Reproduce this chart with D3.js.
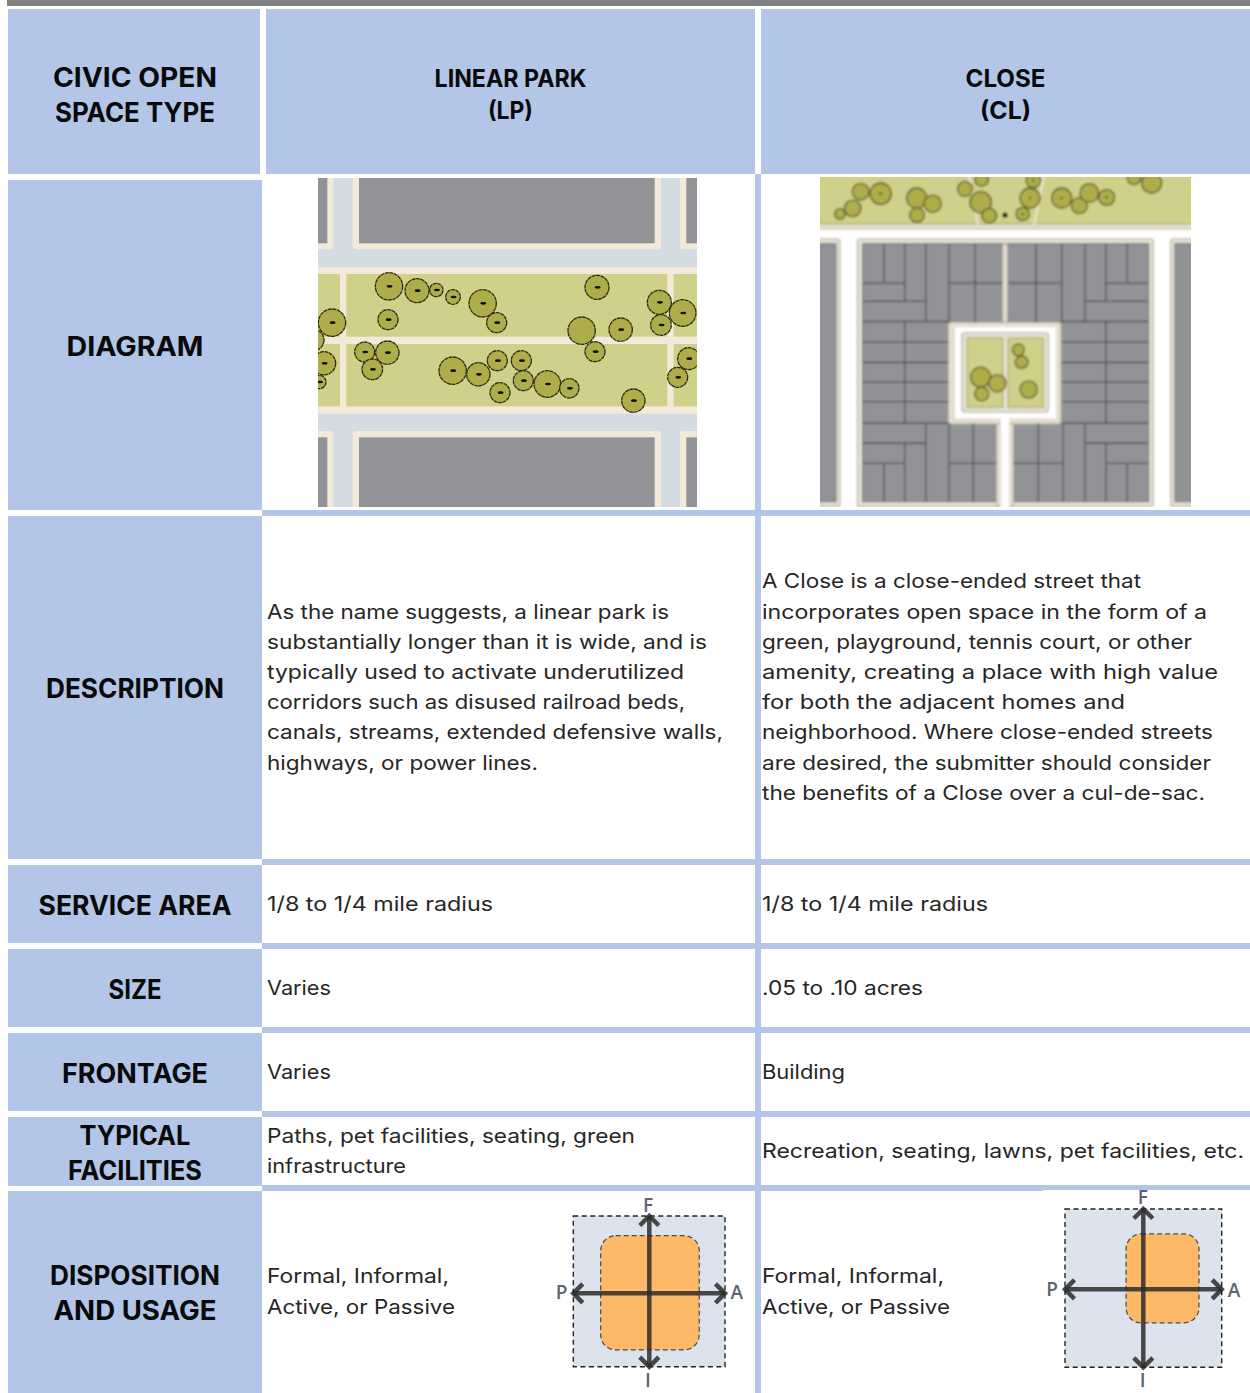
<!DOCTYPE html>
<html lang="en">

<head>
    <meta charset="UTF-8">
    <title>Civic Open Space Types</title>
    <style>
        html, body { margin: 0; padding: 0; background: #fff; }
        svg { display: block; }
        text { font-family: Inter, "Noto Sans", sans-serif; fill: #262626; }
        .label { font-weight: 700; font-size: 27px; fill: #0a0a0a; text-anchor: middle; }
        .head { font-weight: 700; font-size: 24px; fill: #0a0a0a; text-anchor: middle; }
        .body { font-weight: 400; font-size: 20px; }
        .axis-letter { font-family: "Open Sans", sans-serif; font-weight: 600; font-size: 19px; fill: #5b6470; text-anchor: middle; }
    </style>
</head>

<body>
    <script src="https://d3js.org/d3.v7.min.js"></script>
    <script>
        // table content
        const rowLabels = [
            ["CIVIC OPEN", "SPACE TYPE"], ["DIAGRAM"], ["DESCRIPTION"], ["SERVICE AREA"],
            ["SIZE"], ["FRONTAGE"], ["TYPICAL", "FACILITIES"], ["DISPOSITION", "AND USAGE"]
        ];
        const columnHeads = [["LINEAR PARK", "(LP)"], ["CLOSE", "(CL)"]];
        const linearParkCells = [
            null,
            ["As the name suggests, a linear park is", "substantially longer than it is wide, and is",
                "typically used to activate underutilized", "corridors such as disused railroad beds,",
                "canals, streams, extended defensive walls,", "highways, or power lines."],
            ["1/8 to 1/4 mile radius"],
            ["Varies"],
            ["Varies"],
            ["Paths, pet facilities, seating, green", "infrastructure"],
            ["Formal, Informal,", "Active, or Passive"]
        ];
        const closeCells = [
            null,
            ["A Close is a close-ended street that", "incorporates open space in the form of a",
                "green, playground, tennis court, or other", "amenity, creating a place with high value",
                "for both the adjacent homes and", "neighborhood. Where close-ended streets",
                "are desired, the submitter should consider", "the benefits of a Close over a cul-de-sac."],
            ["1/8 to 1/4 mile radius"],
            [".05 to .10 acres"],
            ["Building"],
            ["Recreation, seating, lawns, pet facilities, etc."],
            ["Formal, Informal,", "Active, or Passive"]
        ];

        // site plan of the linear park: x, y, radius in plan units
        const lpTrees = [
            [237, 349, 41], [321, 362, 36], [379, 360, 20], [429, 381, 22], [518, 400, 41], [560, 458, 30],
            [234, 449, 30], [66, 458, 41], [10, 510, 32], [42, 580, 35], [28, 636, 20], [164, 546, 30],
            [232, 548, 35], [187, 598, 31], [428, 602, 41], [505, 613, 35], [562, 572, 30], [634, 572, 30],
            [640, 632, 30], [712, 642, 40], [778, 655, 29], [570, 668, 30], [861, 352, 36], [855, 545, 30],
            [932, 479, 35], [1048, 397, 36], [1118, 429, 40], [1053, 465, 31], [1136, 566, 33],
            [1103, 622, 30], [970, 692, 35]
        ];
        const lpBareTrees = [[815, 482, 41]];
        const lpAreas = [
            ["road", 24, 24, 1161, 1011],
            ["walk", 128, 0, 1053, 238], ["walk", 0, 0, 70, 238], ["walk", 1110, 0, 1300, 238],
            ["walk", 128, 783, 1053, 1100], ["walk", 0, 783, 70, 1100], ["walk", 1110, 783, 1300, 1100],
            ["block", 147, 0, 1034, 220], ["block", 0, 0, 52, 220], ["block", 1129, 0, 1300, 220],
            ["block", 147, 802, 1034, 1100], ["block", 0, 802, 52, 1100], ["block", 1129, 802, 1300, 1100],
            ["path", 0, 292, 1300, 731],
            ["green", 0, 312, 90, 500], ["green", 109, 312, 1072, 500], ["green", 1091, 312, 1300, 500],
            ["green", 0, 522, 90, 709], ["green", 109, 522, 1072, 709], ["green", 1091, 522, 1300, 709]
        ];

        // site plan of the close
        const clTrees = [
            [90, 133, 16], [128, 116, 25], [152, 66, 25], [212, 72, 32], [320, 85, 30], [368, 102, 26],
            [321, 136, 22], [465, 58, 22], [515, 30, 20], [512, 98, 32], [538, 138, 22], [638, 133, 20],
            [660, 85, 30], [670, 32, 22], [755, 85, 30], [808, 108, 24], [838, 70, 28], [890, 83, 24],
            [972, 25, 20], [1025, 40, 30], [625, 540, 18], [635, 577, 19], [512, 622, 30], [562, 640, 26],
            [515, 672, 21], [656, 659, 26]
        ];
        const clAreas = [
            ["path", -20, -20, 1300, 178], ["green", -20, -20, 1300, 162],
            ["path", -20, 207, 90, 1010], ["block", -20, 222, 78, 995],
            ["path", 1082, 207, 1300, 1010], ["block", 1095, 222, 1300, 995],
            ["path", 142, 207, 1030, 1010], ["block", 158, 222, 1016, 995],
            ["path", 578, 222, 592, 458],
            ["path", 560, 750, 610, 1010], ["road", 573, 750, 597, 1050],
            ["path", 415, 458, 753, 762], ["road", 435, 472, 738, 745], ["road", 573, 740, 597, 770],
            ["path", 455, 488, 716, 727], ["green", 472, 505, 578, 712], ["green", 595, 505, 700, 712]
        ];
        const clPaths = [[478, 20, 503, 165], [702, 20, 672, 165]];
        const clLotLines = [
            [222, 222, 222, 340], [284, 222, 284, 395], [347, 222, 347, 455], [417, 222, 417, 458], [495, 222, 495, 458],
            [158, 340, 284, 340], [158, 395, 347, 395], [158, 455, 415, 455], [417, 340, 578, 340],
            [678, 222, 678, 458], [755, 222, 755, 458], [825, 222, 825, 455], [888, 222, 888, 395], [952, 222, 952, 340],
            [595, 340, 755, 340], [888, 340, 1016, 340], [825, 395, 1016, 395], [755, 455, 1016, 455],
            [284, 455, 284, 760], [888, 455, 888, 760],
            [158, 517, 415, 517], [158, 578, 415, 578], [158, 637, 415, 637], [158, 695, 415, 695], [158, 760, 415, 760],
            [755, 517, 1016, 517], [755, 578, 1016, 578], [755, 637, 1016, 637], [755, 695, 1016, 695], [755, 760, 1016, 760],
            [158, 820, 347, 820], [158, 880, 284, 880], [347, 760, 347, 995], [284, 820, 284, 995], [222, 880, 222, 995],
            [417, 760, 417, 995], [490, 760, 490, 995], [417, 880, 560, 880],
            [685, 760, 685, 995], [760, 760, 760, 995], [825, 760, 825, 995], [888, 820, 888, 995], [952, 880, 952, 995],
            [610, 880, 760, 880], [825, 820, 1016, 820], [888, 880, 1016, 880]
        ];
        const clMarker = [[585, 136, 8]];
        const clDottedTrees = [212, 755, 660, 890, 638, 670];

        // disposition: how far the use reaches along passive, active, formal, informal
        const dispositionAxes = ["P", "A", "F", "I"];
        const lpDisposition = [0.64, 0.66, 0.745, 0.77];
        const clDisposition = [0.22, 0.71, 0.69, 0.43];

        // layout, all page pixels
        const W = 1250, H = 1393;
        const BLUE = "#b3c6e7";
        const labelX = [8, 262];
        const colX = [[266, 755], [761, 1250]];
        const rowBands = [[9, 174], [180, 510], [516, 859], [865, 943], [949, 1027], [1033, 1111], [1117, 1186], [1191, 1393]];
        const textLeft = [267, 762];
        const bodyLineH = 30.2, labelLineH = 35, headLineH = 32;
        const headCenter = 94, labelNudge = [3, 1, 1, 1, 1, 1, 1, 1];
        const areaColor = { road: "#d3dce3", walk: "#f3e9d8", block: "#929396", path: "#f3e9d8", green: "#cfd08a" };
        const clAreaColor = { road: "#ffffff", block: "#929396", path: "#e3dfd0", green: "#cfd08a" };
        const clAreaStroke = { road: "none", block: "#77787c", path: "#b8b2a0", green: "#a9a96c" };

        // measured line widths, used to fit the substitute font
        const fit = {
            "CIVIC OPEN": 164, "SPACE TYPE": 160, "DIAGRAM": 137, "DESCRIPTION": 178, "SERVICE AREA": 193, "SIZE": 53,
            "FRONTAGE": 146, "TYPICAL": 111, "FACILITIES": 134, "DISPOSITION": 170, "AND USAGE": 163,
            "LINEAR PARK": 152, "(LP)": 45, "CLOSE": 80, "(CL)": 51,
            "As the name suggests, a linear park is": 402, "substantially longer than it is wide, and is": 440,
            "typically used to activate underutilized": 417, "corridors such as disused railroad beds,": 418,
            "canals, streams, extended defensive walls,": 456, "highways, or power lines.": 271,
            "A Close is a close-ended street that": 379, "incorporates open space in the form of a": 445,
            "green, playground, tennis court, or other": 430, "amenity, creating a place with high value": 456,
            "for both the adjacent homes and": 363, "neighborhood. Where close-ended streets": 451,
            "are desired, the submitter should consider": 449, "the benefits of a Close over a cul-de-sac.": 443,
            "1/8 to 1/4 mile radius": 226, "Varies": 64, ".05 to .10 acres": 161, "Building": 83,
            "Paths, pet facilities, seating, green": 368, "infrastructure": 139,
            "Recreation, seating, lawns, pet facilities, etc.": 482, "Formal, Informal,": 182, "Active, or Passive": 188
        };

        const svg = d3.select("body").append("svg").attr("width", W).attr("height", H);
        const defs = svg.append("defs");
        defs.append("filter").attr("id", "soft").append("feGaussianBlur").attr("stdDeviation", 0.45);
        defs.append("filter").attr("id", "softer").append("feGaussianBlur").attr("stdDeviation", 0.85);

        // bands and rules
        svg.append("rect").attr("x", 7).attr("y", 0).attr("width", W - 7).attr("height", 6).attr("fill", "#808080");
        svg.selectAll(".label-bg").data(rowBands).enter().append("rect")
            .attr("x", labelX[0]).attr("y", d => d[0])
            .attr("width", (d, i) => (i === 0 ? 252 : labelX[1] - labelX[0]))
            .attr("height", d => d[1] - d[0]).attr("fill", BLUE);
        svg.selectAll(".head-bg").data(colX).enter().append("rect")
            .attr("x", d => d[0]).attr("y", rowBands[0][0]).attr("width", d => d[1] - d[0])
            .attr("height", rowBands[0][1] - rowBands[0][0]).attr("fill", BLUE);
        svg.append("rect").attr("x", 755).attr("y", 174).attr("width", 6).attr("height", H - 174).attr("fill", BLUE);
        svg.selectAll(".rule").data(rowBands.slice(2)).enter().append("rect")
            .attr("x", labelX[1]).attr("y", d => d[0] - 6).attr("width", W - labelX[1]).attr("height", 6)
            .attr("fill", BLUE);
        svg.append("rect").attr("x", 1043).attr("y", 1190).attr("width", W - 1043).attr("height", 1).attr("fill", "#fff");

        function drawLines(sel, lines, cls, x, centerY, lineH) {
            const top = centerY - (lines.length - 1) * lineH / 2;
            const size = cls === "body" ? 20 : cls === "head" ? 24 : 27;
            sel.selectAll(null).data(lines).enter().append("text")
                .attr("class", cls)
                .attr("x", x)
                .attr("y", (d, i) => top + i * lineH + size * (cls === "body" ? 0.3 : 0.36))
                .attr("textLength", d => fit[d])
                .attr("lengthAdjust", "spacingAndGlyphs")
                .text(d => d);
        }

        rowLabels.forEach((lines, i) => {
            const mid = (rowBands[i][0] + rowBands[i][1]) / 2 + labelNudge[i];
            drawLines(svg, lines, "label", 135, mid, labelLineH);
        });
        columnHeads.forEach((lines, i) => {
            drawLines(svg, lines, "head", (colX[i][0] + colX[i][1]) / 2, headCenter, headLineH);
        });
        [linearParkCells, closeCells].forEach((cells, c) => {
            cells.forEach((lines, i) => {
                if (!lines) return;
                const mid = (rowBands[i + 1][0] + rowBands[i + 1][1]) / 2 + 0.5;
                drawLines(svg, lines, "body", textLeft[c], mid, bodyLineH);
            });
        });

        // site plans
        function planFrame(id, xd, xr, yd, yr, filter) {
            defs.append("clipPath").attr("id", id).append("rect")
                .attr("x", xr[0]).attr("y", yr[0]).attr("width", xr[1] - xr[0]).attr("height", yr[1] - yr[0]);
            const g = svg.append("g").attr("clip-path", `url(#${id})`).append("g").attr("filter", filter);
            return { g, x: d3.scaleLinear().domain(xd).range(xr), y: d3.scaleLinear().domain(yd).range(yr) };
        }

        function drawAreas(p, areas, colors, strokes) {
            p.g.selectAll(null).data(areas).enter().append("rect")
                .attr("x", d => p.x(d[1])).attr("y", d => p.y(d[2]))
                .attr("width", d => p.x(d[3]) - p.x(d[1])).attr("height", d => p.y(d[4]) - p.y(d[2]))
                .attr("rx", d => (d[0] === "walk" || d[0] === "path" ? 3 : 0))
                .attr("fill", d => colors[d[0]])
                .attr("stroke", d => (strokes ? strokes[d[0]] : "none"))
                .attr("stroke-width", 1.1);
        }

        function drawTrees(p, trees, edge, dash) {
            const r = d3.scaleLinear().domain([0, 3]).range([0, p.x(3) - p.x(0)]);
            p.g.selectAll(null).data(trees).enter().append("circle")
                .attr("cx", d => p.x(d[0])).attr("cy", d => p.y(d[1])).attr("r", d => r(d[2]))
                .attr("fill", "#aead4a").attr("stroke", edge).attr("stroke-width", 1.3)
                .attr("stroke-dasharray", dash);
        }

        const lp = planFrame("lp-clip", [24, 1161], [318, 697], [24, 1011], [178, 507], "url(#soft)");
        drawAreas(lp, lpAreas, areaColor);
        drawTrees(lp, lpTrees, "#2c2c14", "4 0.6");
        drawTrees(lp, lpBareTrees, "#2c2c14", "4 0.6");
        lp.g.selectAll(null).data(lpTrees).enter().append("ellipse")
            .attr("cx", d => lp.x(d[0]) + 0.6).attr("cy", d => lp.y(d[1]))
            .attr("rx", 3).attr("ry", 1.3).attr("fill", "#0c0c08");

        const cl = planFrame("cl-clip", [30, 1143], [820, 1191], [22, 1011], [177, 507], "url(#softer)");
        drawAreas(cl, clAreas, clAreaColor, clAreaStroke);
        cl.g.selectAll(null).data(clPaths).enter().append("line")
            .attr("x1", d => cl.x(d[0])).attr("y1", d => cl.y(d[1]))
            .attr("x2", d => cl.x(d[2])).attr("y2", d => cl.y(d[3]))
            .attr("stroke", "#e6e2cd").attr("stroke-width", 2.5);
        cl.g.selectAll(null).data(clLotLines).enter().append("line")
            .attr("x1", d => cl.x(d[0])).attr("y1", d => cl.y(d[1]))
            .attr("x2", d => cl.x(d[2])).attr("y2", d => cl.y(d[3]))
            .attr("stroke", "#505155").attr("stroke-width", 1.3);
        drawTrees(cl, clTrees, "#55552a", null);
        cl.g.selectAll(null).data(clTrees.filter(d => clDottedTrees.includes(d[0]))).enter().append("circle")
            .attr("cx", d => cl.x(d[0])).attr("cy", d => cl.y(d[1])).attr("r", 1.1).attr("fill", "#15150a");
        cl.g.selectAll(null).data(clMarker).enter().append("circle")
            .attr("cx", d => cl.x(d[0])).attr("cy", d => cl.y(d[1])).attr("r", 2.6).attr("fill", "#0a0a0a");

        // disposition diagrams
        function drawDisposition(reach, box, letters) {
            const x = d3.scaleLinear().domain([-1, 0, 1]).range([box.left, box.cx, box.right]);
            const y = d3.scaleLinear().domain([-1, 0, 1]).range([box.top, box.cy, box.bottom]);
            const g = svg.append("g");
            g.append("rect").attr("x", x(-1)).attr("y", y(-1)).attr("width", x(1) - x(-1)).attr("height", y(1) - y(-1))
                .attr("fill", "#dce3ec").attr("stroke", "#222").attr("stroke-width", 1.4).attr("stroke-dasharray", "5 3.5");
            g.append("rect").attr("x", x(-reach[0])).attr("y", y(-reach[2]))
                .attr("width", x(reach[1]) - x(-reach[0])).attr("height", y(reach[3]) - y(-reach[2]))
                .attr("rx", 15).attr("fill", "#fdb968").attr("stroke", "#4a4a4a").attr("stroke-width", 1.2)
                .attr("stroke-dasharray", "5 3");
            const ends = [[-1, 0], [1, 0], [0, -1], [0, 1]];
            const arrows = g.append("g").attr("fill", "none").attr("stroke", "#2c2c2c").attr("stroke-opacity", 0.85)
                .attr("stroke-width", 4.5);
            arrows.append("path").attr("d", d3.line()([[x(-1), y(0)], [x(1), y(0)]]));
            arrows.append("path").attr("d", d3.line()([[x(0), y(-1)], [x(0), y(1)]]));
            ends.forEach(e => {
                const tx = x(e[0]), ty = y(e[1]), h = 9.5;
                const pts = e[0] !== 0
                    ? [[tx - e[0] * h, ty - h], [tx, ty], [tx - e[0] * h, ty + h]]
                    : [[tx - h, ty - e[1] * h], [tx, ty], [tx + h, ty - e[1] * h]];
                arrows.append("path").attr("d", d3.line()(pts));
            });
            g.selectAll("text").data(dispositionAxes).enter().append("text")
                .attr("class", "axis-letter")
                .attr("x", (d, i) => letters[i][0]).attr("y", (d, i) => letters[i][1] + 6.5)
                .text(d => d);
        }

        drawDisposition(lpDisposition, { left: 573.3, right: 725, top: 1216, bottom: 1366.7, cx: 649.3, cy: 1293.3 },
            [[561.7, 1292], [736.7, 1292], [648, 1205], [648, 1380.5]]);
        drawDisposition(clDisposition, { left: 1065, right: 1221.7, top: 1209, bottom: 1367.3, cx: 1143.3, cy: 1289.3 },
            [[1052, 1289.5], [1234, 1290], [1142.7, 1197.7], [1142.7, 1380.5]]);
    </script>
</body>

</html>
